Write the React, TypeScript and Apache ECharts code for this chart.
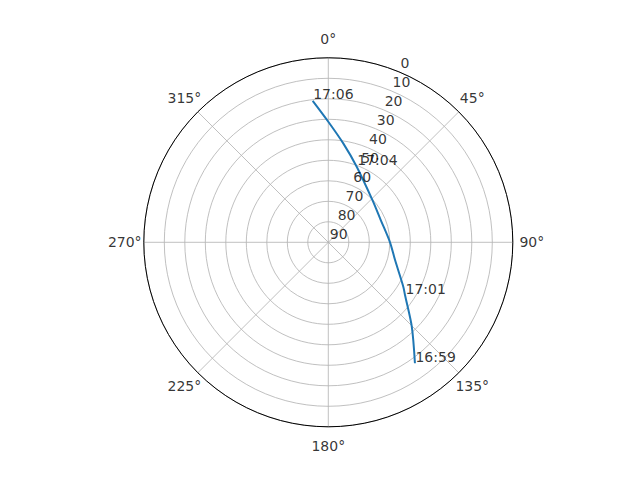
import { useEffect, useRef } from 'react';
import * as echarts from 'echarts';

// satellite track: elevation (deg) and azimuth (deg), from 16:59 to 17:06
const elevation = [17.4, 32.1, 44.6, 47.5, 56.3, 59.9, 62.2, 60.2, 50.6, 41.2, 31.2, 20.6];
const azimuth = [144.4, 135.3, 124.5, 120.6, 104.9, 90.0, 67.0, 46.3, 20.6, 8.6, 0.0, 353.7];
const timeLabels = ['16:59', '', '17:01', '', '', '', '', '', '17:04', '', '', '17:06'];

// radial tick labels (elevation), drawn along this azimuth
const radiusTicks = [0, 10, 20, 30, 40, 50, 60, 70, 80, 90];
const radiusLabelAngle = 22.5;

// azimuth tick labels
const angleTicks = [0, 45, 90, 135, 180, 225, 270, 315];

const FONT = 'DejaVu Sans';
// angle labels sit just outside the outer ring (radius axis is inverted)
const ANGLE_LABEL_R = -9.3;

export default function App() {
  const chartRef = useRef<HTMLDivElement>(null);

  useEffect(() => {
    if (!chartRef.current) return;
    const chart = echarts.init(chartRef.current, null, { renderer: 'svg' });

    const option = {
      animation: false,
      backgroundColor: '#ffffff',
      polar: {
        center: [328.3, 242.3],
        radius: 184.5
      },
      angleAxis: {
        type: 'value',
        min: 0,
        max: 360,
        interval: 45,
        startAngle: 90,
        clockwise: true,
        z: 3,
        axisLine: { show: true, lineStyle: { color: '#000000', width: 1 } },
        axisTick: { show: false },
        axisLabel: { show: false },
        splitLine: { show: true, lineStyle: { color: '#b0b0b0', width: 0.8 } }
      },
      radiusAxis: {
        type: 'value',
        min: 0,
        max: 90,
        interval: 10,
        inverse: true,
        z: 1,
        axisLine: { show: false },
        axisTick: { show: false },
        axisLabel: { show: false },
        splitLine: { show: true, lineStyle: { color: '#b0b0b0', width: 0.8 } }
      },
      series: [
        {
          type: 'line',
          coordinateSystem: 'polar',
          data: elevation.map((e, i) => [e, azimuth[i]]),
          showSymbol: false,
          smooth: 0.3,
          lineStyle: { color: '#1f77b4', width: 2 },
          z: 4
        },
        {
          type: 'scatter',
          coordinateSystem: 'polar',
          clip: false,
          data: angleTicks.map(a => [ANGLE_LABEL_R, a]),
          symbolSize: 1,
          itemStyle: { color: 'rgba(0,0,0,0)' },
          z: 5,
          label: {
            show: true,
            position: 'inside',
            align: 'center',
            verticalAlign: 'middle',
            color: '#000000',
            fontFamily: FONT,
            fontSize: 14,
            formatter: (p: any) => `${p.value[1]}°`
          }
        },
        {
          type: 'scatter',
          coordinateSystem: 'polar',
          data: radiusTicks.map(r => [r, radiusLabelAngle]),
          symbolSize: 1,
          itemStyle: { color: 'rgba(0,0,0,0)' },
          z: 5,
          label: {
            show: true,
            position: [2, -1],
            align: 'left',
            verticalAlign: 'bottom',
            color: '#000000',
            fontFamily: FONT,
            fontSize: 14,
            formatter: (p: any) => String(p.value[0])
          }
        },
        {
          type: 'scatter',
          coordinateSystem: 'polar',
          data: elevation
            .map((e, i) => ({ value: [e, azimuth[i]], name: timeLabels[i] }))
            .filter(d => d.name !== ''),
          symbolSize: 1,
          itemStyle: { color: 'rgba(0,0,0,0)' },
          z: 6,
          label: {
            show: true,
            position: [1, 1],
            align: 'left',
            verticalAlign: 'bottom',
            color: '#000000',
            fontFamily: FONT,
            fontSize: 14,
            formatter: (p: any) => p.name
          }
        }
      ]
    };

    chart.setOption(option as any);

    return () => {
      chart.dispose();
    };
  }, []);

  return (
    <div
      ref={chartRef}
      style={{ position: 'fixed', left: 0, top: 0, width: '640px', height: '480px' }}
    />
  );
}
